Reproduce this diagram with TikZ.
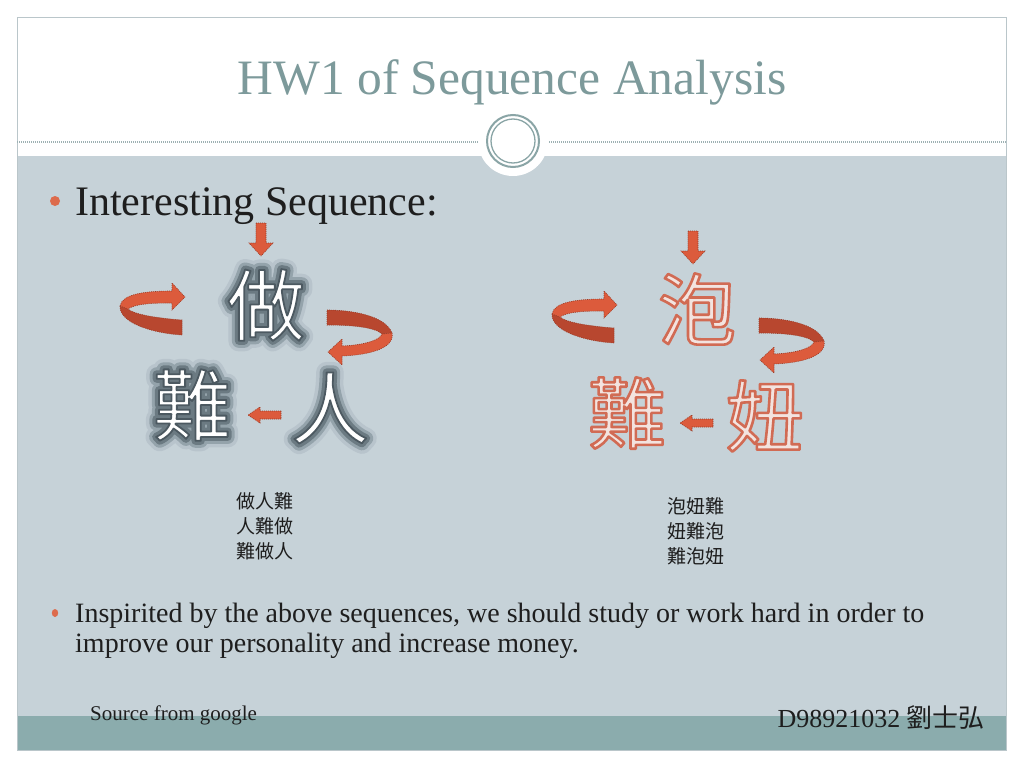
\documentclass[tikz,border=0pt]{standalone}
\usepackage{fontspec}
\setmainfont{Liberation Serif}
\newfontfamily\cjk{Noto Sans CJK TC}
\usetikzlibrary{calc}
\definecolor{titlec}{HTML}{7D9A9B}
\definecolor{bodyc}{HTML}{C6D2D8}
\definecolor{bandc}{HTML}{8BACAD}
\definecolor{ringc}{HTML}{8AA5A6}
\definecolor{dotc}{HTML}{9DB1B3}
\definecolor{framec}{HTML}{BAC6CA}
\definecolor{bulc}{HTML}{DD6B4C}
\definecolor{arrL}{HTML}{DC5B3C}
\definecolor{arrD}{HTML}{B8472F}
\definecolor{arrE}{HTML}{9A3A25}
\definecolor{glowc}{HTML}{8E9CA2}
\definecolor{pinkF}{HTML}{F3E3DF}
\definecolor{textc}{HTML}{1E1E1E}

% text render mode tricks (one text per layer)
\newcommand\strokedtext[3]{% width, stroke rgb, text : fill + stroke
  \special{pdf:literal direct 2 Tr #1 w #2 RG 1 j}#3\special{pdf:literal direct 0 Tr}}
\newcommand\haloText[3]{% width, stroke rgb, text : stroke only
  \special{pdf:literal direct 1 Tr #1 w #2 RG 1 j}#3\special{pdf:literal direct 0 Tr}}

\tikzset{
  bigcjk/.style={font=\cjk\fontsize{78}{78}\selectfont, inner sep=0pt},
  glowtxt/.style={bigcjk, text=glowc},
  facetxt/.style={bigcjk, text=white},
  pinkface/.style={bigcjk, text=pinkF},
  blockL/.style={fill=arrL, draw=arrE, line width=0.6pt, dash pattern=on 1pt off 1pt},
  blockD/.style={fill=arrD, draw=arrE, line width=0.6pt, dash pattern=on 1pt off 1pt},
  listtxt/.style={font=\cjk\fontsize{19}{25}\selectfont, align=center, inner sep=0pt, text=textc},
  bodytxt/.style={font=\fontsize{28}{30}\selectfont, inner sep=0pt, text=textc},
}

\newcommand\glowglyph[3]{%
  \node[glowtxt] (#1g) at #2 {\haloText{21}{0.72 0.77 0.80}{#3}};
  \node[glowtxt] (#1h) at #2 {\haloText{14}{0.58 0.64 0.67}{#3}};
  \node[glowtxt] (#1i) at #2 {\haloText{8}{0.42 0.48 0.51}{#3}};
  \node[facetxt] (#1) at #2 {\strokedtext{1.8}{0.30 0.35 0.38}{#3}};}
\newcommand\pinkglyph[3]{%
  \node[pinkface] (#1) at #2 {\strokedtext{2.6}{0.82 0.42 0.33}{#3}};}

\newcommand\arrowgroup{%
  \filldraw[blockL] (256,223) -- (266,223) -- (266,243) -- (273,243) -- (261,256) -- (249,243) -- (256,243) -- cycle;
  \filldraw[blockL] (281,411) -- (281,419) -- (260,419) -- (260,423) -- (248,415) -- (260,407) -- (260,411) -- cycle;
  \filldraw[blockD] (120,306) .. controls (119,322) and (150,333) .. (182,335) -- (182,320) .. controls (155,318) and (133,314) .. (128,309) -- cycle;
  \filldraw[blockL] (120,306) .. controls (122,294) and (145,291) .. (172,291) -- (172,283) -- (185,297) -- (172,310) -- (172,303) .. controls (150,303) and (135,304) .. (128,309) -- cycle;
  \filldraw[blockD] (327,310) .. controls (350,310) and (385,315) .. (392,333) -- (382,334) .. controls (375,327) and (350,325) .. (327,325) -- cycle;
  \filldraw[blockL] (392,333) .. controls (395,348) and (370,355) .. (342,356) -- (342,365) -- (328,352) -- (342,339) -- (342,346) .. controls (365,345) and (380,340) .. (382,334) -- cycle;}

\begin{document}
\begin{tikzpicture}[x=1pt,y=-1pt]
\useasboundingbox (0,0) rectangle (1024,768);
\fill[white] (0,0) rectangle (1024,768);
% slide panels
\fill[bodyc] (17,156) rectangle (1006,716);
\fill[bandc] (17,716) rectangle (1006,750);
\draw[framec, line width=0.8pt] (17,17) rectangle (1006,750);
% dotted divider and circle
\draw[dotc, line width=1.2pt, dash pattern=on 1pt off 1pt] (17,142) -- (1006,142);
\fill[white] (513,141) circle (35);
\draw[ringc, line width=2pt] (513,141) circle (26);
\draw[ringc, line width=1.3pt] (513,141) circle (22);
% title
\node[anchor=base, font=\fontsize{49.5}{52}\selectfont, text=titlec, inner sep=0pt] (title) at (512,94) {HW1 of Sequence Analysis};
% first bullet
\fill[bulc] (55,201) circle (5);
\node[anchor=base west, font=\fontsize{42}{46}\selectfont, text=textc, inner sep=0pt] (head) at (75,215) {Interesting Sequence:};
% left group
\arrowgroup
\glowglyph{zuo}{(266,305)}{做}
\glowglyph{nanA}{(192,405)}{難}
\glowglyph{ren}{(330,408)}{人}
% right group
\begin{scope}[shift={(432,8)}]
\arrowgroup
\end{scope}
\pinkglyph{pao}{(697,309)}{泡}
\pinkglyph{nanB}{(627,413)}{難}
\pinkglyph{niu}{(765,416)}{妞}
% lists
\node[listtxt] (listA) at (264.5,526) {做人難\\人難做\\難做人};
\node[listtxt] (listB) at (695.5,531) {泡妞難\\妞難泡\\難泡妞};
% second bullet
\fill[bulc] (55,613) ellipse (3.2 and 4);
\node[anchor=base west, bodytxt] (body1) at (75,622) {Inspirited by the above sequences, we should study or work hard in order to};
\node[anchor=base west, bodytxt] (body2) at (75,652) {improve our personality and increase money.};
% footer
\node[anchor=base west, font=\fontsize{21}{24}\selectfont, text=textc, inner sep=0pt] (src) at (90,720) {Source from google};
\node[anchor=base east, font=\fontsize{26}{28}\selectfont, text=textc, inner sep=0pt] (author) at (985,727) {D98921032 {\cjk 劉士弘}};
\end{tikzpicture}
\end{document}
